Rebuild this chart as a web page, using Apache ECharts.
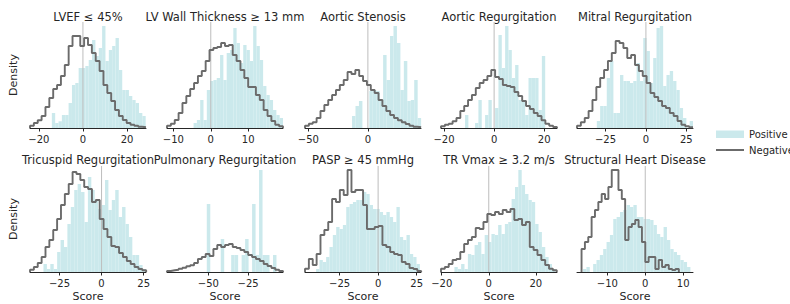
<!DOCTYPE html>
<html>
<head>
<meta charset="utf-8">
<script src="https://cdn.jsdelivr.net/npm/echarts@6/dist/echarts.min.js"></script>
<style>
html, body { margin: 0; padding: 0; background: #fff; }
#chart { width: 790px; height: 304px; }
</style>
</head>
<body>
<div id="chart"></div>
<script>
// panel titles and x ranges
var titles = ['LVEF \u2264 45%', 'LV Wall Thickness \u2265 13 mm', 'Aortic Stenosis', 'Aortic Regurgitation', 'Mitral Regurgitation',
  'Tricuspid Regurgitation', 'Pulmonary Regurgitation', 'PASP \u2265 45 mmHg', 'TR Vmax \u2265 3.2 m/s', 'Structural Heart Disease'];
var xRange = [[-24, 28.6], [-11.7, 19.3], [-52.8, 44.6], [-21.2, 25.1], [-42.6, 29.1],
  [-42.5, 26.4], [-76, -3.1], [-47.4, 27.8], [-20.3, 29], [-18, 12.6]];
var tickVals = [[-20, 0, 20], [-10, 0, 10], [-50, 0], [-20, 0, 20], [-25, 0, 25],
  [-25, 0, 25], [-50, -25], [-25, 0, 25], [-20, 0, 20], [-10, 0, 10]];

// bins: [first edge, bin width]
var posBins = [[-14.1, 1.52], [-4.6, 0.885], [-13.3, 2.9], [-11.6, 1.333], [-32.4, 2.05],
  [-34.5, 2.03], [-51, 2.19], [-40.2, 2.17], [-14.6, 1.43], [-16.4, 0.885]];
var negBins = [[-24, 1.753], [-11.7, 1.033], [-52.8, 3.25], [-21.2, 1.543], [-42.6, 2.39],
  [-42.5, 2.3], [-76, 2.43], [-47.4, 2.51], [-20.3, 1.64], [-16.8, 0.885]];

// density (relative heights) - positive
var lvefPos = [15,5,6.7,13,13,25,43,45,60,60,62,68,88,72,80,102,67,78,82,90,58,38,38,32,28,25,15,12];
var lvwtPos = [5,8,28,8,38,47,48,50,73,48,75,78,100,85,65,83,78,67,102,82,68,42,33,28,18,13,10];
var asPos = [12,22,27,0,0,37,38,37,28,73,48,92,102,85,38,67,27,28,48,10];
var arPos = [13,0,0,5,28,0,13,28,0,20,93,60,102,78,50,63,28,28,13,50,50,50,18,72];
var mrPos = [0,7,22,22,50,67,15,15,53,47,47,45,47,65,47,90,77,45,70,100,102,42,53,57,47,38,20,10,0,7];
var trPos = [8,3,8,3,20,32,25,48,65,82,88,80,50,95,82,72,63,67,92,62,72,82,55,65,48,35,17,17,7,3];
var prPos = [68,0,0,0,33,0,0,17,17,0,17,33,0,68,17,102,17,17,0,17];
var paspPos = [3,12,10,15,25,37,45,43,47,65,68,70,72,72,80,78,67,63,63,60,57,60,55,50,65,35,32,37,18,15,8];
var trvPos = [5,3,8,3,18,17,27,30,18,37,30,38,37,47,38,48,50,73,85,102,87,78,72,70,48,40,25,15,8,3];
var shdPos = [3,5,0,8,12,17,23,30,37,53,55,60,62,67,65,67,55,55,53,53,52,47,38,35,45,32,23,20,17,12,10,5];

// density (relative heights) - negative
var lvefNeg = [2.3,5,7.7,12,21,30,39,43,52,63,82,92,92,82,90,83,75,67,57,43,35,27,18,12,8,5,3.3,2.3,1.3,0.7];
var lvwtNeg = [2.3,4.3,8,15,25,32,39,45,52,57,67,78,80,81,85,82,83,73,67,58,50,41,41,33,28,18,12,7,3.3,1.7];
var asNeg = [2.3,4.3,5.7,10,17,23,28,33,38,43,48,56,54,58,52,47,43,38,35,28,22,17,13,10,7.7,5.7,4,2.3,1.3,0.7];
var arNeg = [1.7,3.3,4.3,6.7,10,17,22,28,33,40,45,48,52,58,51,49,43,42,41,36,32,27,22,19,15,12,7.7,4.3,2.3,1];
var mrNeg = [2.3,5.7,10,17,28,41,50,58,67,75,87,85,80,70,73,63,57,52,45,35,31,27,22,20,15,12,7,3.3,1.7,0.7];
var trNeg = [2.3,5,9,15,25,32,42,53,67,78,88,100,98,92,85,83,70,72,53,43,35,26,25,19,15,11,8,5,3,1.7];
var prNeg = [1,1.7,2.3,3.3,4.3,5.7,6.7,9,13,15,18,16,23,27,25,27,28,25,24,22,20,17,15,13,11,8,6,4,2.3,1];
var paspNeg = [3.3,13,7,18,37,42,50,73,70,82,77,102,80,82,82,67,43,43,45,46,27,25,20,18,17,10,8,4,3,1];
var trvNeg = [3.3,5,8,12,13,20,28,32,35,44,43,50,58,57,60,58,62,60,63,52,53,47,50,25,22,17,12,7,3.3,1.7];
var shdNeg = [23,30,35,55,62,70,78,73,85,102,102,82,73,32,45,48,52,45,30,10,15,15,3,12,5,7,3,2,3];

var posHeights = [lvefPos, lvwtPos, asPos, arPos, mrPos, trPos, prPos, paspPos, trvPos, shdPos];
var negHeights = [lvefNeg, lvwtNeg, asNeg, arNeg, mrNeg, trNeg, prNeg, paspNeg, trvNeg, shdNeg];

var posColor = '#cbe9ec';
var negColor = '#6b6b6b';
var inkColor = '#262626';

var colLeft = [30, 167, 305, 441, 577];
var rowTop = [22, 166];
var panelW = 116, panelH = 106;

function toRects(bin, h) {
  var out = [];
  for (var k = 0; k < h.length; k++) {
    out.push([bin[0] + k * bin[1], bin[0] + (k + 1) * bin[1], h[k]]);
  }
  return out;
}
function toStep(bin, h) {
  var pts = [[bin[0], 0]];
  for (var k = 0; k < h.length; k++) {
    pts.push([bin[0] + k * bin[1], h[k]]);
    pts.push([bin[0] + (k + 1) * bin[1], h[k]]);
  }
  pts.push([bin[0] + h.length * bin[1], 0]);
  return pts;
}
function renderBar(params, api) {
  var p0 = api.coord([api.value(0), api.value(2)]);
  var p1 = api.coord([api.value(1), 0]);
  return {
    type: 'rect',
    shape: { x: p0[0], y: p0[1], width: p1[0] - p0[0], height: p1[1] - p0[1] },
    style: { fill: posColor }
  };
}
function minusFmt(v) { return String(v).replace('-', '\u2212'); }

var grids = [], xAxes = [], yAxes = [], series = [], graphics = [];
for (var i = 0; i < 10; i++) {
  var c = i % 5, r = Math.floor(i / 5);
  grids.push({ left: colLeft[c], top: rowTop[r], width: panelW, height: panelH });
  xAxes.push({
    type: 'value', gridIndex: i, min: xRange[i][0], max: xRange[i][1],
    splitLine: { show: false },
    axisLine: { onZero: false, lineStyle: { color: inkColor, width: 1 } },
    axisTick: { customValues: tickVals[i], length: 3.5, lineStyle: { color: inkColor } },
    axisLabel: { customValues: tickVals[i], formatter: minusFmt, color: inkColor, fontSize: 10, margin: 6 },
    name: r === 1 ? 'Score' : '', nameLocation: 'middle', nameGap: 19,
    nameTextStyle: { color: inkColor, fontSize: 11 }
  });
  yAxes.push({ type: 'value', gridIndex: i, min: 0, max: 106, show: false });

  series.push({
    type: 'custom', name: 'Positive', xAxisIndex: i, yAxisIndex: i,
    data: toRects(posBins[i], posHeights[i]), renderItem: renderBar,
    encode: { x: [0, 1], y: 2 }, silent: true, z: 1
  });
  if (xRange[i][0] < 0 && xRange[i][1] > 0) {
    series.push({
      type: 'line', xAxisIndex: i, yAxisIndex: i, data: [[0, 0], [0, 106]],
      symbol: 'none', lineStyle: { color: '#bdbdbd', width: 1 }, silent: true, z: 2
    });
  }
  series.push({
    type: 'line', name: 'Negative', xAxisIndex: i, yAxisIndex: i,
    data: toStep(negBins[i], negHeights[i]), symbol: 'none',
    lineStyle: { color: negColor, width: 1.9 }, silent: true, z: 3
  });

  graphics.push({
    type: 'text', x: colLeft[c] + panelW / 2, y: r ? 160 : 17,
    style: { text: titles[i], fill: inkColor, font: '11.5px "DejaVu Sans"', align: 'center', verticalAlign: 'middle' }
  });
}

// y labels
[75, 219].forEach(function (yc) {
  graphics.push({
    type: 'text', x: 13.5, y: yc, rotation: Math.PI / 2,
    style: { text: 'Density', fill: inkColor, font: '11px "DejaVu Sans"', align: 'center', verticalAlign: 'middle' }
  });
});

// legend
graphics.push({ type: 'rect', shape: { x: 716, y: 130.5, width: 28, height: 7.5 }, style: { fill: posColor } });
graphics.push({ type: 'line', shape: { x1: 716, y1: 150, x2: 744, y2: 150 }, style: { stroke: negColor, lineWidth: 2 } });
graphics.push({ type: 'text', x: 749, y: 134, style: { text: 'Positive', fill: inkColor, font: '10px "DejaVu Sans"', align: 'left', verticalAlign: 'middle' } });
graphics.push({ type: 'text', x: 749, y: 150.5, style: { text: 'Negative', fill: inkColor, font: '10px "DejaVu Sans"', align: 'left', verticalAlign: 'middle' } });

var chart = echarts.init(document.getElementById('chart'), null, { renderer: 'svg' });
chart.setOption({
  backgroundColor: '#fff',
  animation: false,
  textStyle: { fontFamily: 'DejaVu Sans' },
  grid: grids,
  xAxis: xAxes,
  yAxis: yAxes,
  series: series,
  graphic: graphics
});
</script>
</body>
</html>
